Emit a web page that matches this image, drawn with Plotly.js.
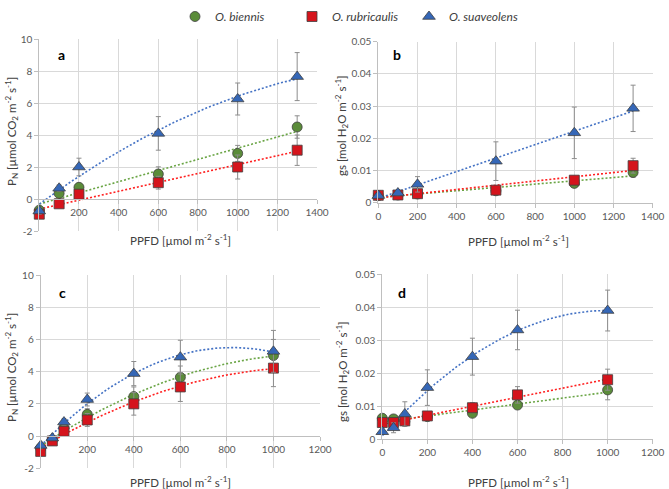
<!DOCTYPE html>
<html>
<head>
<meta charset="utf-8">
<script src="https://cdn.plot.ly/plotly-3.0.1.min.js"></script>
<style>html,body{margin:0;padding:0;background:#fff;}#chart{width:669px;height:489px;}</style>
</head>
<body>
<div id="chart"></div>
<script>
// ---------- DATA ----------
const seriesNames = ['O. biennis', 'O. rubricaulis', 'O. suaveolens'];

// Panel a: PN vs PPFD
const xA = [0, 100, 200, 600, 1000, 1300];
const aBiennis = [-0.7, 0.35, 0.73, 1.56, 2.85, 4.5];
const aBiennisErr = [0.2, 0.15, 0.2, 0.45, 0.5, 0.7];
const aRubri = [-0.95, -0.3, 0.3, 1.02, 2.0, 3.05];
const aRubriErr = [0.2, 0.15, 0.2, 0.4, 0.75, 0.95];
const aSuav = [-0.75, 0.67, 2.0, 4.1, 6.25, 7.65];
const aSuavErr = [0.2, 0.2, 0.55, 1.05, 1.0, 1.5];

// Panel b: gs vs PPFD
const xB = [0, 100, 200, 600, 1000, 1300];
const bBiennis = [0.0022, 0.0024, 0.0027, 0.0037, 0.006, 0.0094];
const bBiennisErr = [0.0004, 0.0004, 0.0005, 0.0008, 0.0012, 0.0015];
const bRubri = [0.0023, 0.0024, 0.0028, 0.0039, 0.007, 0.0115];
const bRubriErr = [0.0004, 0.0004, 0.0005, 0.0008, 0.0012, 0.0023];
const bSuav = [0.0022, 0.003, 0.0057, 0.0129, 0.0217, 0.0293];
const bSuavErr = [0.0004, 0.0008, 0.0024, 0.006, 0.008, 0.0072];

// Panel c: PN vs PPFD
const xC = [0, 50, 100, 200, 400, 600, 1000];
const cBiennis = [-0.75, -0.25, 0.5, 1.35, 2.45, 3.65, 5.0];
const cBiennisErr = [0.2, 0.15, 0.2, 0.35, 0.6, 0.7, 1.0];
const cRubri = [-0.95, -0.3, 0.3, 1.0, 2.0, 3.05, 4.22];
const cRubriErr = [0.25, 0.15, 0.2, 0.4, 0.7, 0.9, 1.15];
const cSuav = [-0.58, -0.12, 0.87, 2.27, 3.88, 4.9, 5.26];
const cSuavErr = [0.2, 0.15, 0.2, 0.4, 0.75, 1.05, 1.3];

// Panel d: gs vs PPFD
const xD = [0, 50, 100, 200, 400, 600, 1000];
const dBiennis = [0.0063, 0.0061, 0.0053, 0.0068, 0.0078, 0.0103, 0.0149];
const dBiennisErr = [0.0008, 0.0008, 0.0008, 0.001, 0.001, 0.0012, 0.003];
const dRubri = [0.005, 0.005, 0.0055, 0.007, 0.0095, 0.0134, 0.018];
const dRubriErr = [0.0008, 0.0008, 0.0008, 0.001, 0.0015, 0.0025, 0.0032];
const dSuav = [0.0022, 0.0034, 0.0076, 0.0156, 0.025, 0.0331, 0.039];
const dSuavErr = [0.0008, 0.0015, 0.0037, 0.0054, 0.0056, 0.006, 0.0062];

// Trendline type per panel (polynomial order for biennis, rubricaulis, suaveolens)
const trendOrderA = [1, 1, 2];
const trendOrderB = [1, 1, 1];
const trendOrderC = [2, 2, 2];
const trendOrderD = [1, 1, 2];

// Tick labels
const xTicksA = [200, 400, 600, 800, 1000, 1200, 1400];
const xTicksB = [0, 200, 400, 600, 800, 1000, 1200, 1400];
const xTicksC = [200, 400, 600, 800, 1000, 1200];
const xTicksD = [0, 200, 400, 600, 800, 1000, 1200];
const yTicksPN = [-2, 0, 2, 4, 6, 8, 10];
const yTicksGs = [0, 0.01, 0.02, 0.03, 0.04, 0.05];
const yTicksGsText = ['0', '0.01', '0.02', '0.03', '0.04', '0.05'];
const panelLetters = ['a', 'b', 'c', 'd'];

// ---------- STYLE ----------
const W = 669, H = 489;
const colors = ['#5b8c3a', '#d5141c', '#3567b7'];
const trendColors = ['#6aa545', '#ff2020', '#4472c4'];
const symbols = ['circle', 'square', 'triangle-up'];
const msizes = [10, 10, 11];
const FONT = 'Lato, "Open Sans", "Liberation Sans", sans-serif';
const tickFont = {family: FONT, size: 10, color: '#595959'};
const gridC = '#d9d9d9', axC = '#bfbfbf';

// pixel boxes [x0,x1,yTop,yBottom]
const boxes = {
  a: [39.3, 317, 39, 231],
  b: [378.3, 652.7, 41.7, 202.7],
  c: [40.7, 320, 275, 468.3],
  d: [382.3, 652.7, 274.3, 439]
};
function xd(b){return [b[0]/W, b[1]/W];}
function yd(b){return [1-b[3]/H, 1-b[2]/H];}

// least-squares polynomial trendline (as Excel's trendline)
function polyfit(x, y, n){
  const m = n+1;
  const M = [];
  for(let r=0;r<m;r++){
    const row=[];
    for(let c=0;c<m;c++){let s=0; for(let i=0;i<x.length;i++) s+=Math.pow(x[i], r+c); row.push(s);}
    let t=0; for(let i=0;i<x.length;i++) t+=Math.pow(x[i], r)*y[i]; row.push(t);
    M.push(row);
  }
  for(let i=0;i<m;i++){
    let piv=i; for(let r=i+1;r<m;r++) if(Math.abs(M[r][i])>Math.abs(M[piv][i])) piv=r;
    [M[i],M[piv]]=[M[piv],M[i]];
    for(let r=0;r<m;r++){ if(r===i) continue; const f=M[r][i]/M[i][i]; for(let c=i;c<=m;c++) M[r][c]-=f*M[i][c]; }
  }
  return M.map((row,i)=>row[m]/row[i]);
}
function trend(x, y, n){
  const c = polyfit(x, y, n);
  const x0 = Math.min(...x), x1 = Math.max(...x);
  const xs=[], ys=[];
  for(let i=0;i<=60;i++){
    const v=x0+(x1-x0)*i/60; let s=0;
    for(let k=0;k<c.length;k++) s+=c[k]*Math.pow(v,k);
    xs.push(v); ys.push(s);
  }
  return {xs, ys};
}

const traces = [];
function addPanel(x, ys, errs, orders, xa, ya, legend){
  for(let s=0;s<3;s++){
    const t = trend(x, ys[s], orders[s]);
    traces.push({x:t.xs, y:t.ys, xaxis:xa, yaxis:ya, mode:'lines', showlegend:false, hoverinfo:'skip',
      line:{color:trendColors[s], width:1.6, dash:'2px,2px'}});
  }
  for(let s=0;s<3;s++){
    traces.push({x:x, y:ys[s], xaxis:xa, yaxis:ya, mode:'markers', name:'<i>'+seriesNames[s]+'</i>',
      showlegend:legend, cliponaxis:false,
      error_y:{type:'data', array:errs[s], visible:true, color:'#8c8c8c', thickness:1, width:2.5},
      marker:{symbol:symbols[s], size:msizes[s], color:colors[s], line:{color:'#404040', width:0.8}}});
  }
}
addPanel(xA, [aBiennis, aRubri, aSuav], [aBiennisErr, aRubriErr, aSuavErr], trendOrderA, 'x', 'y', true);
addPanel(xB, [bBiennis, bRubri, bSuav], [bBiennisErr, bRubriErr, bSuavErr], trendOrderB, 'x2', 'y2', false);
addPanel(xC, [cBiennis, cRubri, cSuav], [cBiennisErr, cRubriErr, cSuavErr], trendOrderC, 'x3', 'y3', false);
addPanel(xD, [dBiennis, dRubri, dSuav], [dBiennisErr, dRubriErr, dSuavErr], trendOrderD, 'x4', 'y4', false);

function zeroPos(box, ymin, ymax){
  const d = yd(box); return d[0] + (0-ymin)/(ymax-ymin)*(d[1]-d[0]);
}
function xaxis(box, range, ticks, yname, freePos){
  const ax = {domain:xd(box), range:range, tickvals:ticks, ticktext:ticks.map(String), tickfont:tickFont,
    showgrid:true, gridcolor:gridC, gridwidth:1, zeroline:false, showline:true, linecolor:axC, linewidth:1,
    ticks:'outside', ticklen:4, tickcolor:axC, fixedrange:true};
  if(freePos!==undefined){ax.anchor='free'; ax.position=freePos;} else {ax.anchor=yname;}
  return ax;
}
function yaxis(box, range, ticks, text, xname){
  return {domain:yd(box), range:range, tickvals:ticks, ticktext:text, tickfont:tickFont, anchor:xname,
    showgrid:true, gridcolor:gridC, gridwidth:1, zeroline:false, showline:true, linecolor:axC, linewidth:1,
    ticks:'outside', ticklen:4, tickcolor:axC, fixedrange:true};
}

const pnTitle = 'P<sub>N</sub> [µmol CO<sub>2</sub> m<sup>-2</sup> s<sup>-1</sup>]';
const gsTitle = 'gs [mol H<sub>2</sub>O m<sup>-2</sup> s<sup>-1</sup>]';
const xTitle = 'PPFD [µmol m<sup>-2</sup> s<sup>-1</sup>]';
const titleFont = {family: FONT, size: 11.5, color: '#404040'};

function ann(text, px, py, extra){
  return Object.assign({text:text, x:px/W, y:1-py/H, xref:'paper', yref:'paper', showarrow:false,
    font:titleFont, xanchor:'center', yanchor:'middle'}, extra||{});
}
const annotations = [
  ann(xTitle, 180, 239), ann(xTitle, 518, 240), ann(xTitle, 180, 481), ann(xTitle, 518, 481),
  ann(pnTitle, 11, 132, {textangle:-90}), ann(gsTitle, 341, 125, {textangle:-90}),
  ann(pnTitle, 11, 368, {textangle:-90}), ann(gsTitle, 342, 372, {textangle:-90}),
];
const letterPos = [[61,54],[397,54],[63,292],[402,292]];
panelLetters.forEach((l,i)=>annotations.push(ann('<b>'+l+'</b>', letterPos[i][0], letterPos[i][1],
  {font:{family:FONT, size:14, color:'#000'}})));

const layout = {
  width:W, height:H, margin:{l:0,r:0,t:0,b:0}, paper_bgcolor:'#fff', plot_bgcolor:'#fff',
  font:{family:FONT},
  showlegend:true,
  legend:{orientation:'h', x:175/W, y:1-2/H, xanchor:'left', yanchor:'top', font:{family:FONT, size:12, color:'#404040'},
    entrywidth:72, entrywidthmode:'pixels', itemwidth:30, bgcolor:'rgba(0,0,0,0)'},
  xaxis: xaxis(boxes.a, [0,1400], xTicksA, 'y', zeroPos(boxes.a,-2,10)),
  yaxis: yaxis(boxes.a, [-2,10], yTicksPN, yTicksPN.map(String), 'x'),
  xaxis2: xaxis(boxes.b, [0,1400], xTicksB, 'y2'),
  yaxis2: yaxis(boxes.b, [0,0.05], yTicksGs, yTicksGsText, 'x2'),
  xaxis3: xaxis(boxes.c, [0,1200], xTicksC, 'y3', zeroPos(boxes.c,-2,10)),
  yaxis3: yaxis(boxes.c, [-2,10], yTicksPN, yTicksPN.map(String), 'x3'),
  xaxis4: xaxis(boxes.d, [0,1200], xTicksD, 'y4'),
  yaxis4: yaxis(boxes.d, [0,0.05], yTicksGs, yTicksGsText, 'x4'),
  annotations: annotations
};
Plotly.newPlot('chart', traces, layout, {staticPlot:true, displayModeBar:false});
</script>
</body>
</html>
